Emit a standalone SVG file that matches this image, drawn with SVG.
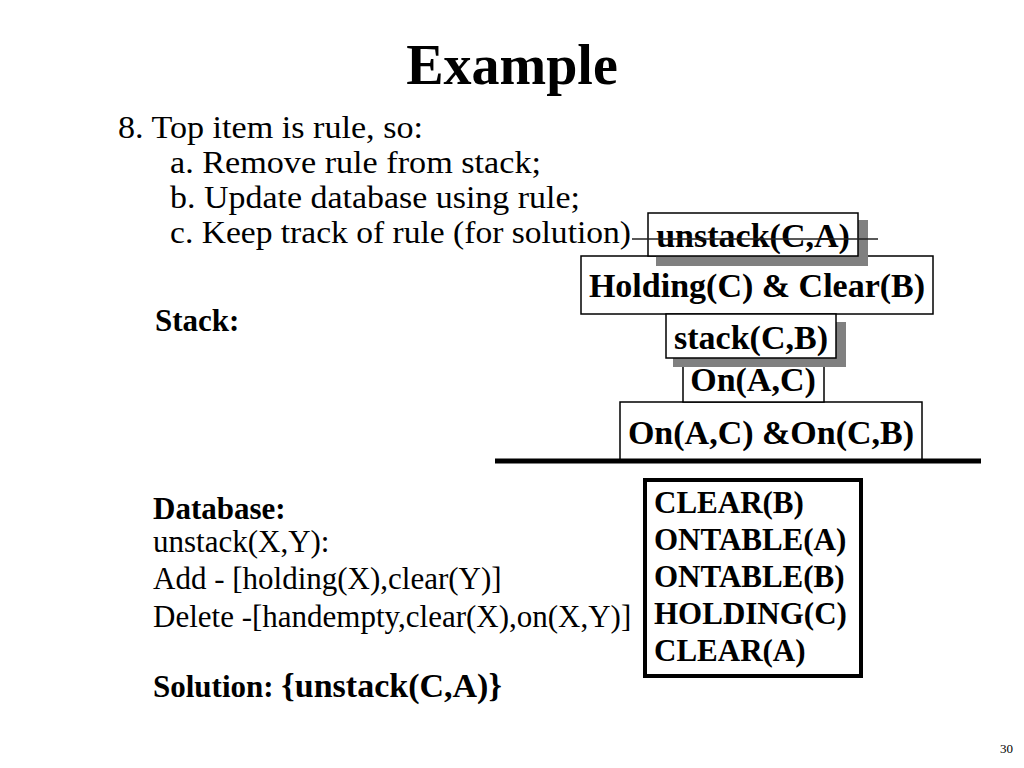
<svg xmlns="http://www.w3.org/2000/svg" width="1024" height="768" viewBox="0 0 1024 768">
<style>
text{font-family:"Liberation Serif","Times New Roman",serif;fill:#000}
.b{font-weight:bold}
.reg{font-size:31px}
.lab{font-size:34px;font-weight:bold;text-anchor:middle}
.box{fill:#fff;stroke:#000;stroke-width:1.5}
.sh{fill:#808080}
.db{font-size:31px;font-weight:bold}
</style>
<rect width="1024" height="768" fill="#fff"/>
<g id="title"><text x="512" y="84" class="b" font-size="56" text-anchor="middle">Example</text></g>
<g id="steps">
<text x="118" y="138" class="reg" textLength="305" lengthAdjust="spacingAndGlyphs">8. Top item is rule, so:</text>
<text x="170" y="173" class="reg" textLength="371" lengthAdjust="spacingAndGlyphs">a. Remove rule from stack;</text>
<text x="170" y="208" class="reg" textLength="410" lengthAdjust="spacingAndGlyphs">b. Update database using rule;</text>
<text x="170" y="243" class="reg" textLength="461" lengthAdjust="spacingAndGlyphs">c. Keep track of rule (for solution)</text>
</g>
<g id="stack-label"><text x="155" y="331" class="b" font-size="31">Stack:</text></g>
<g id="node-holding">
<rect x="581" y="256" width="352" height="58" class="box"/>
<text x="757" y="297" class="lab">Holding(C) &amp; Clear(B)</text>
</g>
<g id="node-unstack">
<rect x="656" y="220" width="212" height="46" class="sh"/>
<rect x="648" y="213" width="210" height="43" class="box"/>
<text x="753" y="247" class="lab">unstack(C,A)</text>
</g>
<g id="node-onac-goal">
<rect x="620" y="402" width="302" height="58" class="box"/>
<text x="771" y="444" class="lab">On(A,C) &amp;On(C,B)</text>
</g>
<g id="node-onac">
<rect x="683" y="358" width="141" height="44" class="box"/>
<text x="753" y="391" class="lab">On(A,C)</text>
</g>
<g id="node-stack">
<rect x="673" y="322" width="173" height="45" class="sh"/>
<rect x="666" y="314" width="170" height="44" class="box"/>
<text x="751" y="349" class="lab">stack(C,B)</text>
</g>
<g id="connectors">
<line x1="632" y1="239" x2="878" y2="239" stroke="#222" stroke-width="1.5"/>
<line x1="495" y1="461" x2="981" y2="461" stroke="#000" stroke-width="5"/>
</g>
<g id="database-text">
<text x="153" y="519" class="b" font-size="31">Database:</text>
<text x="153" y="552" class="reg">unstack(X,Y):</text>
<text x="153" y="589" class="reg">Add - [holding(X),clear(Y)]</text>
<text x="153" y="627" class="reg">Delete -[handempty,clear(X),on(X,Y)]</text>
</g>
<g id="database">
<rect x="645" y="480" width="216" height="196" fill="#fff" stroke="#000" stroke-width="4"/>
<text x="654" y="513" class="db">CLEAR(B)</text>
<text x="654" y="550" class="db">ONTABLE(A)</text>
<text x="654" y="587" class="db">ONTABLE(B)</text>
<text x="654" y="624" class="db">HOLDING(C)</text>
<text x="654" y="661" class="db">CLEAR(A)</text>
</g>
<g id="solution">
<text x="153" y="697" class="b" font-size="31">Solution: <tspan font-size="34">{unstack(C,A)}</tspan></text>
</g>
<g id="page"><text x="1000" y="753" font-size="13">30</text></g>
</svg>
